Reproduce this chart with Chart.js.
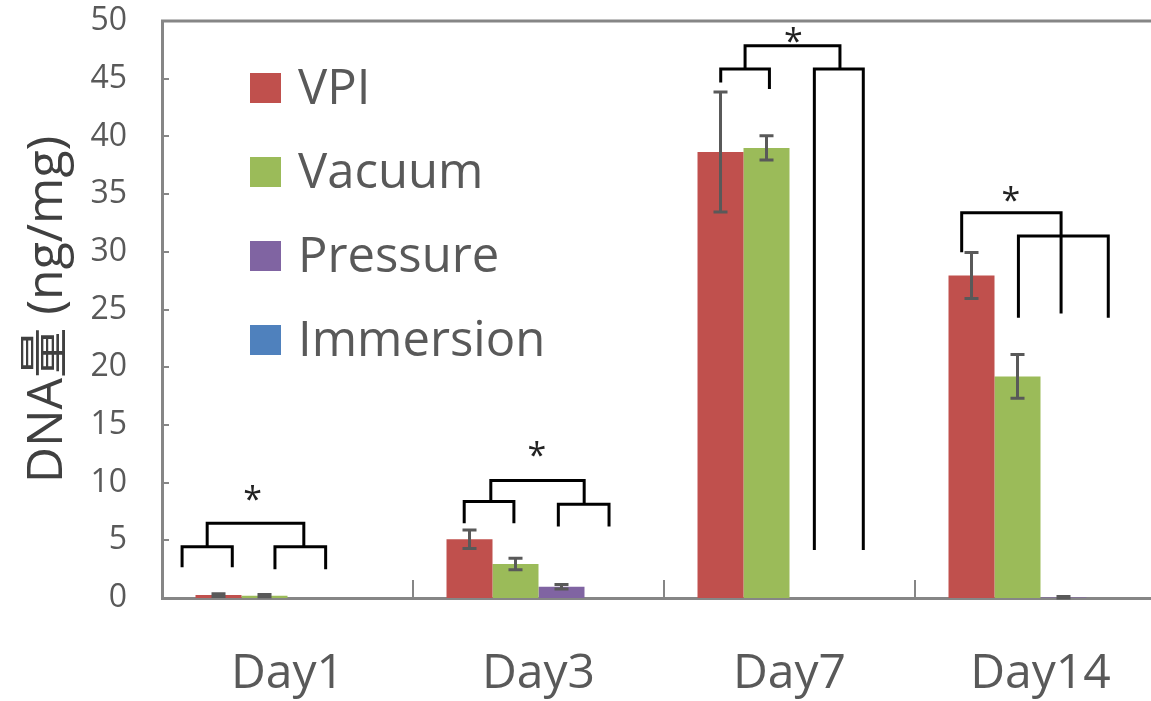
<!DOCTYPE html>
<html>
<head>
<meta charset="utf-8">
<script src="https://cdn.jsdelivr.net/npm/chart.js@4/dist/chart.umd.min.js"></script>
<style>
  html, body { margin: 0; padding: 0; background: #fff; overflow: hidden; }
  #wrap { width: 1175px; height: 701px; }
</style>
</head>
<body>
<div id="wrap"><canvas id="dna" width="1175" height="701"></canvas></div>
<script>
// categories
const days = ['Day1', 'Day3', 'Day7', 'Day14'];

// series values (DNA ng/mg) and their error bars
const vpi = [0.25, 5.1, 38.65, 27.95];
const vpiErr = [0.12, 0.8, 5.2, 2.0];
const vacuum = [0.2, 2.95, 39.0, 19.2];
const vacuumErr = [0.1, 0.5, 1.05, 1.9];
const pressure = [0, 0.98, 0, 0.05];
const pressureErr = [0, 0.2, 0, 0.08];
const immersion = [0, 0, 0, 0];
const immersionErr = [0, 0, 0, 0];

// significance brackets: [day index, left x, right x (in category widths from centre), top y, left end y, right end y]
const brackets = [
  [0, -0.42, -0.22, 4.45, 2.66, 2.66],
  [0, -0.05, 0.152, 4.45, 2.5, 2.5],
  [0, -0.32, 0.065, 6.48, 4.45, 4.45],
  [1, -0.296, -0.098, 8.36, 6.48, 6.48],
  [1, 0.079, 0.281, 8.13, 6.19, 6.19],
  [1, -0.19, 0.182, 10.18, 8.36, 8.13],
  [2, -0.274, -0.080, 45.83, 44.68, 44.1],
  [2, 0.099, 0.294, 45.83, 4.17, 4.17],
  [2, -0.177, 0.201, 47.86, 45.83, 45.83],
  [3, -0.314, 0.082, 33.39, 29.97, 24.65],
  [3, -0.088, 0.27, 31.36, 24.28, 24.28]
];
// stars: [day index, x offset, y]
const stars = [
  [0, -0.139, 9.2],
  [1, -0.007, 13.0],
  [2, 0.015, 48.87],
  [3, -0.118, 35.13]
];

const textColor = '#595959';
const axisColor = '#868686';
const fontFamily = "'Open Sans', 'Noto Sans CJK JP', sans-serif";

// small inward tick marks + top frame line
const axisDeco = {
  id: 'axisDeco',
  afterDraw(chart) {
    const ctx = chart.ctx;
    const a = chart.chartArea;
    const x = chart.scales.x, y = chart.scales.y;
    ctx.save();
    ctx.strokeStyle = axisColor;
    ctx.lineWidth = 2;
    ctx.beginPath();
    for (let v = 0; v <= 50; v += 5) {
      const py = Math.round(y.getPixelForValue(v));
      ctx.moveTo(a.left, py);
      ctx.lineTo(a.left + 7, py);
    }
    const cw = x.getPixelForValue(1) - x.getPixelForValue(0);
    for (let i = 1; i < days.length; i++) {
      const px = Math.round(x.getPixelForValue(i) - cw / 2);
      ctx.moveTo(px, a.bottom);
      ctx.lineTo(px, a.bottom - 18);
    }
    ctx.stroke();
    ctx.lineWidth = 3;
    ctx.beginPath();
    ctx.moveTo(a.left - 1, a.top);
    ctx.lineTo(a.right, a.top);
    ctx.stroke();
    ctx.restore();
  }
};

// error bars
const errorBars = {
  id: 'errorBars',
  afterDatasetsDraw(chart) {
    const ctx = chart.ctx;
    const y = chart.scales.y;
    ctx.save();
    ctx.strokeStyle = textColor;
    ctx.lineWidth = 3;
    chart.data.datasets.forEach((ds, di) => {
      const meta = chart.getDatasetMeta(di);
      meta.data.forEach((bar, i) => {
        const e = ds.errors[i];
        if (!e) return;
        const v = ds.data[i];
        const top = y.getPixelForValue(v + e);
        const bot = y.getPixelForValue(Math.max(v - e, 0));
        ctx.beginPath();
        ctx.moveTo(bar.x, top);
        ctx.lineTo(bar.x, bot);
        ctx.moveTo(bar.x - 7, top);
        ctx.lineTo(bar.x + 7, top);
        ctx.moveTo(bar.x - 7, bot);
        ctx.lineTo(bar.x + 7, bot);
        ctx.stroke();
      });
    });
    ctx.restore();
  }
};

// significance brackets and stars
const sigMarks = {
  id: 'sigMarks',
  afterDatasetsDraw(chart) {
    const ctx = chart.ctx;
    const x = chart.scales.x, y = chart.scales.y;
    const cw = x.getPixelForValue(1) - x.getPixelForValue(0);
    const px = (d, off) => x.getPixelForValue(d) + off * cw;
    ctx.save();
    ctx.strokeStyle = '#000';
    ctx.lineWidth = 3;
    ctx.lineJoin = 'miter';
    brackets.forEach(b => {
      const x1 = px(b[0], b[1]), x2 = px(b[0], b[2]);
      ctx.beginPath();
      ctx.moveTo(x1, y.getPixelForValue(b[4]));
      ctx.lineTo(x1, y.getPixelForValue(b[3]));
      ctx.lineTo(x2, y.getPixelForValue(b[3]));
      ctx.lineTo(x2, y.getPixelForValue(b[5]));
      ctx.stroke();
    });
    ctx.fillStyle = '#222';
    ctx.font = "34px " + fontFamily;
    ctx.textAlign = 'center';
    ctx.textBaseline = 'alphabetic';
    stars.forEach(s => {
      ctx.fillText('*', px(s[0], s[1]), y.getPixelForValue(s[2]) + 34 * 0.56);
    });
    ctx.restore();
  }
};

// legend drawn inside the plot area
const insideLegend = {
  id: 'insideLegend',
  afterDraw(chart) {
    const ctx = chart.ctx;
    const a = chart.chartArea;
    ctx.save();
    ctx.font = "49px " + fontFamily;
    ctx.textBaseline = 'middle';
    ctx.textAlign = 'left';
    chart.data.datasets.forEach((ds, i) => {
      const cy = a.top + 67 + i * 84;
      ctx.fillStyle = ds.backgroundColor;
      ctx.fillRect(a.left + 88, cy - 15, 31, 30);
      ctx.fillStyle = textColor;
      ctx.fillText(ds.label, a.left + 136, cy + 2);
    });
    ctx.restore();
  }
};

const chart = new Chart(document.getElementById('dna'), {
  type: 'bar',
  data: {
    labels: days,
    datasets: [
      { label: 'VPI', data: vpi, errors: vpiErr, backgroundColor: '#C0504D' },
      { label: 'Vacuum', data: vacuum, errors: vacuumErr, backgroundColor: '#9BBB59' },
      { label: 'Pressure', data: pressure, errors: pressureErr, backgroundColor: '#8064A2' },
      { label: 'Immersion', data: immersion, errors: immersionErr, backgroundColor: '#4F81BD' }
    ]
  },
  options: {
    responsive: false,
    animation: false,
    layout: { padding: { top: 21, right: 9, left: 0, bottom: 0 } },
    datasets: { bar: { categoryPercentage: 0.733, barPercentage: 1.0 } },
    plugins: { legend: { display: false }, tooltip: { enabled: false } },
    scales: {
      x: {
        grid: { display: false, drawTicks: false },
        border: { display: true, color: axisColor, width: 3 },
        ticks: {
          color: textColor,
          font: { family: fontFamily, size: 48, lineHeight: 1.2 },
          padding: 48,
          maxRotation: 0,
          autoSkip: false
        },
        afterFit(s) { s.height = 103; }
      },
      y: {
        min: 0,
        max: 50,
        grid: { display: false, drawTicks: false },
        border: { display: true, color: axisColor, width: 3 },
        ticks: {
          stepSize: 5,
          color: textColor,
          font: { family: fontFamily, size: 32, lineHeight: 1 },
          padding: 35
        },
        title: {
          display: true,
          text: 'DNA量 (ng/mg)',
          color: '#404040',
          font: { family: fontFamily, size: 50, lineHeight: 1 },
          padding: { top: 23, bottom: 0 }
        },
        afterFit(s) {
          s.width = 162;
          s.paddingTop = 0;
          s.paddingBottom = 0;
        }
      }
    }
  },
  plugins: [axisDeco, errorBars, sigMarks, insideLegend]
});
</script>
</body>
</html>
